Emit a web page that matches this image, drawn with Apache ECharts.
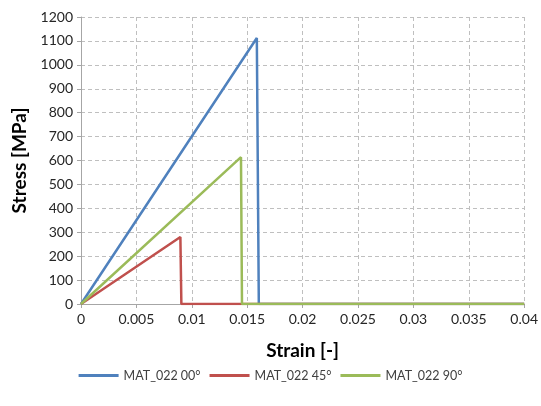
<!DOCTYPE html>
<html>
<head>
<meta charset="utf-8">
<script src="https://cdn.jsdelivr.net/npm/echarts@6/dist/echarts.min.js"></script>
<style>
html, body { margin: 0; padding: 0; background: #fff; }
#chart { width: 541px; height: 406px; }
</style>
</head>
<body>
<div id="chart"></div>
<script>
// stress-strain curves
var names = ['MAT_022 00°', 'MAT_022 45°', 'MAT_022 90°'];
var colors = ['#4F81BD', '#C0504D', '#9BBB59'];
var strain00 = [0, 0.01587, 0.01605, 0.04];
var stress00 = [0, 1112, 0, 0];
var strain45 = [0, 0.00897, 0.00906, 0.04];
var stress45 = [0, 280, 0, 0];
var strain90 = [0, 0.01444, 0.01453, 0.04];
var stress90 = [0, 614, 0, 0];

function pairs(xs, ys) {
    var out = [];
    for (var i = 0; i < xs.length; i++) out.push([xs[i], ys[i]]);
    return out;
}

var chart = echarts.init(document.getElementById('chart'));
var font = 'Lato';
var seriesData = [pairs(strain00, stress00), pairs(strain45, stress45), pairs(strain90, stress90)];

var option = {
    animation: false,
    grid: { left: 81, right: 14, top: 17, bottom: 102, containLabel: false },
    legend: {
        bottom: 19,
        left: 'center',
        itemWidth: 40,
        itemHeight: 3,
        itemGap: 9,
        icon: 'rect',
        textStyle: { fontFamily: font, fontSize: 12.5, color: '#404040' },
        data: names
    },
    xAxis: {
        type: 'value',
        min: 0,
        max: 0.04,
        interval: 0.005,
        name: 'Strain [-]',
        nameLocation: 'middle',
        nameGap: 37,
        nameTextStyle: { fontFamily: font, fontSize: 19, fontWeight: 'bold', color: '#000' },
        axisLine: { lineStyle: { color: '#A6A6A6', width: 1 } },
        axisTick: { show: true, length: 4, lineStyle: { color: '#A6A6A6' } },
        axisLabel: { fontFamily: font, fontSize: 14, color: '#262626', margin: 8 },
        splitLine: { show: true, lineStyle: { color: '#BFBFBF', type: [4, 3] } }
    },
    yAxis: {
        type: 'value',
        min: 0,
        max: 1200,
        interval: 100,
        name: 'Stress [MPa]',
        nameLocation: 'middle',
        nameGap: 50,
        nameTextStyle: { fontFamily: font, fontSize: 19, fontWeight: 'bold', color: '#000' },
        axisLine: { show: true, lineStyle: { color: '#A6A6A6', width: 1 } },
        axisTick: { show: true, length: 4, lineStyle: { color: '#A6A6A6' } },
        axisLabel: {
            fontFamily: font, fontSize: 14, color: '#262626', margin: 8,
            formatter: function (v) { return String(v); }
        },
        splitLine: { show: true, lineStyle: { color: '#BFBFBF', type: [4, 3] } }
    },
    series: names.map(function (n, i) {
        return {
            name: n,
            type: 'line',
            data: seriesData[i],
            showSymbol: false,
            symbol: 'none',
            color: colors[i],
            lineStyle: { color: colors[i], width: 2.5 }
        };
    })
};
chart.setOption(option);
</script>
</body>
</html>
